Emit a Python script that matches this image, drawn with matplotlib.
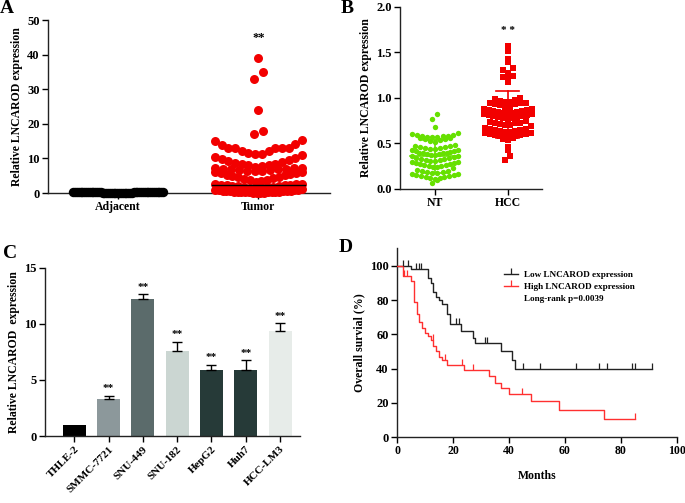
import matplotlib
matplotlib.use('Agg')
import matplotlib.pyplot as plt
from matplotlib.lines import Line2D
import numpy as np

plt.rcParams['font.family'] = 'serif'
plt.rcParams['font.serif'] = ['Liberation Serif', 'DejaVu Serif']
plt.rcParams['font.weight'] = 'bold'
plt.rcParams['axes.labelweight'] = 'bold'
plt.rcParams['axes.linewidth'] = 1.0
plt.rcParams['axes.edgecolor'] = '#222222'

# ---- panel A : adjacent vs tumor
adjacent = [0.02, 0.03, 0.04, 0.05, 0.05, 0.06, 0.07, 0.08, 0.08, 0.09, 0.1, 0.1, 0.11, 0.12, 0.12,
            0.13, 0.14, 0.15, 0.15, 0.16, 0.17, 0.18, 0.18, 0.19, 0.2, 0.2, 0.21, 0.22, 0.22, 0.23,
            0.24, 0.25, 0.25, 0.26, 0.27, 0.28, 0.28, 0.29, 0.3, 0.3, 0.31, 0.32, 0.33, 0.34, 0.35,
            0.36, 0.37, 0.38, 0.39, 0.4]
tumor = [0.05, 0.08, 0.1, 0.12, 0.15, 0.18, 0.2, 0.22, 0.25, 0.3, 0.33, 0.36, 0.4, 0.45, 0.5, 0.55,
         0.6, 0.65, 0.7, 0.75, 0.8, 0.9, 1.0, 1.1,
         1.3, 1.4, 1.5, 1.6, 1.7, 1.8, 1.9, 2.0, 2.1, 2.2, 2.3, 2.3, 2.4, 2.5, 2.6, 2.7,
         3.3, 3.5, 3.7, 3.9, 4.1, 4.3, 4.5, 4.7, 4.9, 5.1, 5.3, 5.5, 5.7, 5.9, 6.0, 6.1,
         6.3, 6.4, 6.5, 6.6, 6.7, 6.8, 6.9, 7.0, 7.0, 7.1, 7.2, 7.3,
         7.6, 7.8, 8.0, 8.2, 8.4, 8.5, 8.7, 8.9, 9.2, 9.5, 9.8, 10.0, 10.3, 11.0,
         11.2, 11.3, 11.5, 12.0, 12.2, 12.9, 13.0, 13.0, 13.0, 13.1, 14.0, 14.2, 15.0, 15.2,
         17, 18, 24, 33, 35, 39]
adjacent_median = 0.2
tumor_median = 2.3

# ---- panel B : NT vs HCC
nt = [0.82, 0.77, 0.68, 0.61,
      0.60, 0.59, 0.59, 0.58, 0.58, 0.58, 0.57, 0.57, 0.57, 0.56, 0.56, 0.55, 0.55, 0.54, 0.53, 0.52,
      0.48, 0.47, 0.47, 0.46, 0.46, 0.45, 0.45, 0.44, 0.44, 0.43, 0.43, 0.42, 0.42,
      0.41, 0.40, 0.40, 0.39, 0.39, 0.38, 0.38, 0.37, 0.37, 0.36, 0.36, 0.35,
      0.34, 0.34, 0.33, 0.33, 0.32, 0.32, 0.31, 0.31, 0.30, 0.30, 0.29,
      0.28, 0.27, 0.27, 0.26, 0.26, 0.25, 0.25, 0.24, 0.24, 0.23,
      0.21, 0.20, 0.20, 0.19, 0.19, 0.18, 0.18, 0.17,
      0.16, 0.15, 0.15, 0.14, 0.14, 0.13, 0.13, 0.12, 0.12, 0.11, 0.10, 0.07]
hcc = [1.57, 1.52, 1.43, 1.40, 1.33, 1.31, 1.28, 1.24, 1.23, 1.23, 1.18,
       1.00, 0.99, 0.98, 0.97, 0.96, 0.96, 0.95, 0.94, 0.94, 0.93, 0.93, 0.92,
       0.90, 0.89, 0.88, 0.88, 0.87, 0.87, 0.86, 0.86, 0.85, 0.85, 0.84, 0.84,
       0.83, 0.82, 0.82, 0.81, 0.81, 0.80, 0.80, 0.79, 0.79, 0.78, 0.78, 0.77,
       0.75, 0.74, 0.73, 0.72, 0.72, 0.71, 0.70, 0.70, 0.69,
       0.67, 0.66, 0.66, 0.65, 0.65, 0.64, 0.64, 0.63, 0.63, 0.62,
       0.61, 0.60, 0.60, 0.59, 0.59, 0.58, 0.58, 0.57, 0.57, 0.56, 0.55, 0.54,
       0.46, 0.43, 0.36, 0.32]
nt_mean, nt_sd = 0.36, 0.18
hcc_mean, hcc_sd = 0.82, 0.26

# ---- panel C : cell lines
cells = ['THLE-2', 'SMMC-7721', 'SNU-449', 'SNU-182', 'HepG2', 'Huh7', 'HCC-LM3']
cell_expr = [1.0, 3.3, 12.2, 7.6, 5.85, 5.9, 9.4]
cell_err = [0.0, 0.3, 0.45, 0.8, 0.5, 0.85, 0.65]
cell_stars = ['', '**', '**', '**', '**', '**', '**']
cell_colors = ['#000000', '#8c989b', '#5b6b6b', '#cbd6d2', '#263a38', '#263a38', '#e7ece9']

# ---- panel D : Kaplan-Meier (step curves)
low_t = [0, 5, 11, 12, 13, 14, 15, 16, 18, 19, 23, 27, 28, 37, 41, 42, 91]
low_s = [100, 98, 93, 90, 85, 82, 80, 78, 72, 66, 62, 58, 55, 50, 45, 40, 40]
low_cens_t = [2, 4, 6.8, 7.8, 8.6, 21, 22, 31.4, 32.2, 45, 51, 64, 72, 75, 84, 85, 91]
high_t = [0, 2, 5, 6, 7, 8, 9, 10, 11, 12, 13, 14, 15, 16, 18, 24, 33, 35, 37, 40, 48, 58, 74, 85]
high_s = [100, 94, 91, 79, 72, 67, 64, 61, 59, 56.5, 53.5, 50.5, 47, 45, 42, 39, 35.5, 31.5, 28.5,
          25, 21, 15.5, 10.5, 10.5]
high_cens_t = [2.6, 3.7, 12.8, 17.2, 23.1, 27, 44.8, 85]


def swarm(vals, center, edges, step, half):
    # prism-like rows: lowest value of a row in the middle, highest at the ends
    vals = np.asarray(vals, float)
    xs = np.full(len(vals), float(center))
    rows = np.digitize(vals, edges)
    for r in np.unique(rows):
        idx = np.where(rows == r)[0]
        idx = idx[np.argsort(vals[idx], kind='stable')]
        n = len(idx)
        sp = step if n < 2 else min(step, 2 * half / (n - 1))
        offs = (np.arange(n) - (n - 1) / 2) * sp
        offs = offs[np.argsort(np.abs(offs), kind='stable')]
        xs[idx] = center + offs
    return xs


def surv_at(t, ts, ss):
    i = np.searchsorted(ts, t, side='right') - 1
    return np.asarray(ss)[i]


fig = plt.figure(figsize=(6.85, 5.03), dpi=100)

# A
rowsA = [1.2, 3.2, 6.2, 7.5, 11.1, 16, 20, 28, 37]
axA = fig.add_axes([0.0701, 0.6163, 0.4117, 0.3439])
xa = swarm(adjacent, 0, rowsA, 0.058, 0.32)
xt = swarm(tumor, 1, rowsA, 0.058, 0.31)
axA.scatter(xa, adjacent, s=46, color='black', linewidths=0, clip_on=False, zorder=3)
axA.scatter(xt, tumor, s=42, color='#f20000', linewidths=0, clip_on=False, zorder=3)
axA.plot([-0.33, 0.33], [adjacent_median] * 2, color='black', lw=1, zorder=4)
axA.plot([0.67, 1.33], [tumor_median] * 2, color='black', lw=1, zorder=4)
axA.text(1, 44.8, '**', ha='center', va='center', fontsize=9)
axA.set_xlim(-0.5, 1.51)
axA.set_ylim(0, 50)
axA.set_yticks([0, 10, 20, 30, 40, 50])
axA.set_xticks([0, 1])
axA.set_xticklabels(['Adjacent', 'Tumor'])
axA.set_ylabel('Relative LNCAROD expression', fontsize=8.5, labelpad=3)

# B
rowsB = np.arange(0.045, 1.6, 0.065)
axB = fig.add_axes([0.5839, 0.6243, 0.2073, 0.3618])
xn = swarm(nt, 0, rowsB, 0.07, 0.32)
xh = swarm(hcc, 1, rowsB, 0.07, 0.33)
axB.scatter(xn, nt, s=15, marker='o', color='#66e000', linewidths=0, clip_on=False, zorder=3)
axB.scatter(xh, hcc, s=15, marker='s', color='#f20000', linewidths=0, clip_on=False, zorder=3)
for c, m, sd, col in [(0, nt_mean, nt_sd, '#66e000'), (1, hcc_mean, hcc_sd, '#f20000')]:
    axB.plot([c - 0.34, c + 0.34], [m, m], color=col, lw=1.2, zorder=4)
    axB.plot([c, c], [m - sd, m + sd], color=col, lw=1.2, zorder=4)
    axB.plot([c - 0.16, c + 0.16], [m + sd] * 2, color=col, lw=1.2, zorder=4)
    axB.plot([c - 0.16, c + 0.16], [m - sd] * 2, color=col, lw=1.2, zorder=4)
axB.text(1, 1.74, '* *', ha='center', va='center', fontsize=8)
axB.set_xlim(-0.48, 1.47)
axB.set_ylim(0, 2.0)
axB.set_yticks([0, 0.5, 1.0, 1.5, 2.0])
axB.set_yticklabels(['0.0', '0.5', '1.0', '1.5', '2.0'])
axB.set_xticks([0, 1])
axB.set_xticklabels(['NT', 'HCC'])
axB.set_ylabel('Relative LNCAROD expression', fontsize=8.5, labelpad=3)

# C
axC = fig.add_axes([0.0657, 0.1332, 0.3723, 0.3340])
xc = np.arange(len(cells))
axC.bar(xc, cell_expr, width=0.67, color=cell_colors, edgecolor='none', zorder=2)
axC.errorbar(xc[1:], cell_expr[1:], yerr=[np.zeros(len(cells) - 1), cell_err[1:]], fmt='none',
             ecolor='black', elinewidth=1, capsize=3.5, capthick=1, zorder=3)
for i in range(len(cells)):
    if cell_stars[i]:
        axC.text(xc[i], cell_expr[i] + cell_err[i] + 0.65, cell_stars[i], ha='center', va='center',
                 fontsize=8)
axC.set_xlim(-0.85, 6.58)
axC.set_ylim(0, 15)
axC.set_yticks([0, 5, 10, 15])
axC.set_xticks(xc)
axC.set_xticklabels(cells, rotation=45, ha='right', rotation_mode='anchor')
axC.set_ylabel('Relative LNCAROD  expression', fontsize=8.5, labelpad=3)

# D
axD = fig.add_axes([0.5796, 0.1312, 0.4088, 0.3757])
axD.step(low_t, low_s, where='post', color='#222222', lw=1.0, zorder=3)
axD.step(high_t, high_s, where='post', color='#ff3030', lw=1.0, zorder=3)
axD.plot(low_cens_t, surv_at(low_cens_t, low_t, low_s), ls='none', marker=2, ms=4, mew=0.9,
         color='#222222', zorder=3)
axD.plot(high_cens_t, surv_at(high_cens_t, high_t, high_s), ls='none', marker=2, ms=4, mew=0.9,
         color='#ff3030', zorder=3)
handles = [Line2D([], [], color='#222222', lw=1, marker=2, ms=4, mew=0.9),
           Line2D([], [], color='#ff3030', lw=1, marker=2, ms=4, mew=0.9),
           Line2D([], [], color='none')]
axD.legend(handles, ['Low LNCAROD expression', 'High LNCAROD expression', 'Long-rank p=0.0039'],
           loc='upper left', bbox_to_anchor=(0.37, 0.90), frameon=False, fontsize=6.6,
           handlelength=1.5, handletextpad=0.6, labelspacing=0.4, borderaxespad=0)
axD.set_xlim(0, 100)
axD.set_ylim(0, 110.5)
axD.set_xticks([0, 20, 40, 60, 80, 100])
axD.set_yticks([0, 20, 40, 60, 80, 100])
axD.set_xlabel('Months', fontsize=8.5, labelpad=9)
axD.set_ylabel('Overall survial (%)', fontsize=8.5, labelpad=3)

for ax in (axA, axB, axC, axD):
    ax.spines['top'].set_visible(False)
    ax.spines['right'].set_visible(False)
    ax.tick_params(direction='out', length=4, width=1, pad=2)
    ax.tick_params(axis='y', labelsize=9)
    ax.tick_params(axis='x', labelsize=8.5)
    for lab in ax.get_xticklabels() + ax.get_yticklabels():
        lab.set_fontweight('bold')
axC.tick_params(axis='x', labelsize=8)

fig.text(0.010, 0.984, 'A', fontsize=14, fontweight='bold', ha='center', va='center')
fig.text(0.507, 0.984, 'B', fontsize=14, fontweight='bold', ha='center', va='center')
fig.text(0.0146, 0.497, 'C', fontsize=14, fontweight='bold', ha='center', va='center')
fig.text(0.504, 0.507, 'D', fontsize=14, fontweight='bold', ha='center', va='center')

fig.savefig('out.png', dpi=100)
